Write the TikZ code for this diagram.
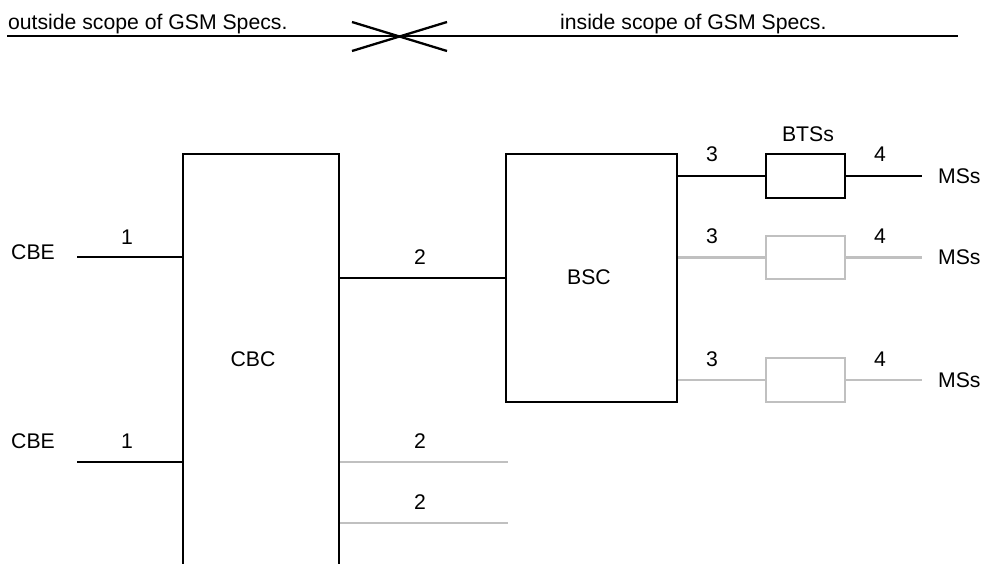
\documentclass[tikz,border=0pt]{standalone}
\usepackage{fontspec}
\setmainfont{Liberation Sans}
\definecolor{lgray}{RGB}{192,192,192}
\begin{document}
\begin{tikzpicture}[x=1pt,y=-1pt,line width=2.3pt,
  lbl/.style={inner sep=0pt,font=\fontsize{21.2}{25}\selectfont},
  boxk/.style={draw=black,rectangle,inner sep=0pt,fill=none},
  boxg/.style={draw=lgray,rectangle,inner sep=0pt,fill=none},
  gl/.style={draw=lgray}]
\useasboundingbox (0,0) rectangle (982,563);
\fill[white] (0,0) rectangle (982,563);
\begin{scope}
\clip (0,0) rectangle (982,563);
% header
\node[lbl,anchor=base west] (outside) at (7,29) {outside scope of GSM Specs.};
\node[lbl,anchor=base west] (inside) at (559,29) {inside scope of GSM Specs.};
\coordinate (hl) at (7,36);
\coordinate (hr) at (958,36);
\draw (hl) -- (hr);
\coordinate (xa) at (352,22);
\coordinate (xb) at (447,51);
\coordinate (xc) at (352,51);
\coordinate (xd) at (447,22);
\draw (xa) -- (xb);
\draw (xc) -- (xd);
% boxes
\node[boxk,minimum width=156pt,minimum height=446pt] (cbc) at (261,377) {};
\node[lbl] (cbclabel) at (253,359) {CBC};
\node[boxk,minimum width=171pt,minimum height=248pt] (bsc) at (591.5,278) {};
\node[lbl] (bsclabel) at (589,277) {BSC};
\node[boxk,minimum width=79pt,minimum height=44pt] (bts1) at (805.5,176) {};
\node[boxg,minimum width=79pt,minimum height=43pt] (bts2) at (805.5,257.5) {};
\node[boxg,minimum width=79pt,minimum height=44pt] (bts3) at (805.5,380) {};
% CBE side
\node[lbl] (cbe1) at (33,252) {CBE};
\node[lbl] (cbe2) at (33,441) {CBE};
\coordinate (c1) at (77,257);
\coordinate (c2) at (77,462);
\draw (c1) -- (c1 -| cbc.west);
\draw (c2) -- (c2 -| cbc.west);
\node[lbl] (one1) at (127,237) {1};
\node[lbl] (one2) at (127,441) {1};
% CBC to BSC
\draw (cbc.east |- bsc) -- (bsc.west);
\node[lbl] (two1) at (420,257) {2};
\coordinate (g1) at (508,462);
\coordinate (g2) at (508,523);
\draw[gl] (g1 -| cbc.east) -- (g1);
\draw[gl] (g2 -| cbc.east) -- (g2);
\node[lbl] (two2) at (420,441) {2};
\node[lbl] (two3) at (420,502) {2};
% BSC to BTS
\coordinate (m1) at (922,176);
\coordinate (m2) at (922,257.5);
\coordinate (m3) at (922,380);
\draw[gl] (bts2.west -| bsc.east) -- (bts2.west);
\draw[gl] (bts3.west -| bsc.east) -- (bts3.west);
\draw[gl] (bts2.east) -- (m2);
\draw[gl] (bts3.east) -- (m3);
\draw (bts1.west -| bsc.east) -- (bts1.west);
\draw (bts1.east) -- (m1);
\node[lbl] (btsl) at (808,134) {BTSs};
\node[lbl] (t31) at (712,154) {3};
\node[lbl] (t41) at (880,154) {4};
\node[lbl] (t32) at (712,236) {3};
\node[lbl] (t42) at (880,236) {4};
\node[lbl] (t33) at (712,359) {3};
\node[lbl] (t43) at (880,359) {4};
\node[lbl,anchor=west] (ms1) at (937,176) {MSs};
\node[lbl,anchor=west] (ms2) at (937,257.5) {MSs};
\node[lbl,anchor=west] (ms3) at (937,380) {MSs};
\end{scope}
\end{tikzpicture}
\end{document}
